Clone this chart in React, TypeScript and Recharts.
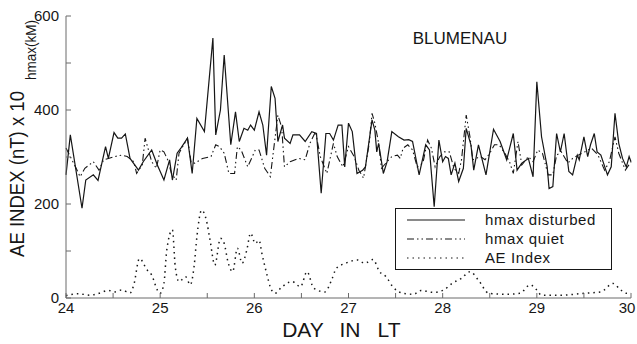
import { LineChart, Line, XAxis, YAxis, Legend } from "recharts";

const FONT = "'Liberation Sans', Arial, sans-serif";
const INK = "#161616";
const FRAME = "#6a6a6a";

const dayTicks = [24, 24.5, 25, 25.5, 26, 26.5, 27, 27.5, 28, 28.5, 29, 29.5, 30];
const hTicks = [0, 100, 200, 300, 400, 500, 600];

// hmax disturbed (km)
const distDay = [
  24.0, 24.046, 24.17, 24.21, 24.29, 24.34, 24.42, 24.45, 24.51, 24.55, 24.59, 24.63, 24.68, 24.77, 24.82, 24.91,
  24.97, 25.04, 25.1, 25.13, 25.18, 25.22, 25.29, 25.34, 25.39, 25.47, 25.56, 25.59, 25.64, 25.68, 25.75, 25.8,
  25.84, 25.89, 25.93, 25.96, 26.0, 26.05, 26.09, 26.13, 26.18, 26.22, 26.25, 26.3, 26.32, 26.38, 26.41, 26.48,
  26.54, 26.61, 26.66, 26.71, 26.76, 26.8, 26.84, 26.89, 26.93, 26.96, 27.0, 27.04, 27.09, 27.15, 27.18, 27.25,
  27.28, 27.3, 27.32, 27.37, 27.41, 27.46, 27.53, 27.59, 27.64, 27.68, 27.75, 27.82, 27.86, 27.91, 27.96, 28.0,
  28.03, 28.06, 28.09, 28.13, 28.17, 28.22, 28.25, 28.3, 28.33, 28.38, 28.46, 28.54, 28.61, 28.68, 28.75, 28.79,
  28.84, 28.91, 28.96, 29.0, 29.05, 29.11, 29.13, 29.17, 29.21, 29.25, 29.29, 29.34, 29.38, 29.43, 29.45, 29.5,
  29.54, 29.57, 29.61, 29.64, 29.68, 29.75, 29.79, 29.83, 29.87, 29.91, 29.95, 29.98, 30.0,
];
const distH = [
  262, 347, 191, 251, 262, 250, 322, 297, 352, 340, 340, 349, 297, 272, 290, 315,
  283, 251, 294, 251, 308, 319, 340, 265, 382, 354, 553, 347, 400, 517, 326, 396,
  333, 361, 357, 368, 357, 396, 368, 304, 450, 425, 333, 368, 340, 329, 347, 347,
  333, 354, 350, 223, 350, 350, 336, 368, 368, 279, 372, 354, 265, 272, 279, 379,
  357, 311, 329, 265, 290, 354, 343, 336, 337, 333, 262, 326, 315, 194, 336, 290,
  301, 297, 262, 287, 248, 276, 361, 326, 272, 326, 262, 359, 333, 294, 350, 272,
  287, 297, 258, 460, 343, 279, 233, 237, 350, 311, 350, 269, 262, 304, 294, 343,
  301, 326, 350, 311, 304, 262, 279, 393, 329, 297, 279, 301, 290,
];

// hmax quiet (km)
const quietDay = [
  24.0, 24.1, 24.15, 24.2, 24.29, 24.35, 24.4, 24.45, 24.52, 24.59, 24.65, 24.72, 24.75, 24.81, 24.84, 24.87,
  24.91, 24.96, 25.0, 25.04, 25.08, 25.12, 25.17, 25.2, 25.29, 25.33, 25.37, 25.45, 25.54, 25.59, 25.63, 25.68,
  25.73, 25.79, 25.82, 25.86, 25.93, 26.01, 26.05, 26.11, 26.17, 26.2, 26.25, 26.29, 26.32, 26.38, 26.47, 26.54,
  26.59, 26.65, 26.7, 26.77, 26.84, 26.88, 26.94, 27.0, 27.06, 27.11, 27.16, 27.22, 27.25, 27.28, 27.32, 27.35,
  27.41, 27.46, 27.52, 27.55, 27.58, 27.63, 27.68, 27.73, 27.79, 27.84, 27.88, 27.92, 27.97, 28.02, 28.07, 28.12,
  28.17, 28.2, 28.25, 28.29, 28.32, 28.4, 28.45, 28.5, 28.55, 28.6, 28.66, 28.71, 28.75, 28.8, 28.84, 28.91,
  28.96, 29.01, 29.06, 29.12, 29.17, 29.21, 29.26, 29.33, 29.38, 29.44, 29.51, 29.58, 29.65, 29.72, 29.77, 29.83,
  29.87, 29.94, 30.0,
];
const quietH = [
  319, 279, 258, 276, 290, 272, 294, 297, 301, 304, 301, 290, 265, 283, 340, 319,
  290, 276, 315, 311, 294, 265, 251, 308, 340, 287, 287, 297, 301, 326, 322, 308,
  265, 265, 322, 315, 279, 315, 315, 276, 258, 308, 389, 364, 279, 290, 297, 294,
  329, 354, 301, 265, 329, 301, 279, 322, 301, 272, 255, 329, 393, 372, 329, 276,
  290, 301, 304, 297, 319, 326, 315, 279, 287, 336, 319, 279, 301, 311, 311, 276,
  265, 294, 389, 343, 294, 301, 294, 308, 326, 326, 308, 290, 265, 333, 283, 301,
  290, 315, 308, 262, 262, 304, 311, 287, 297, 304, 311, 319, 304, 272, 290, 343,
  308, 272, 290,
];

// AE index (nT) / 10
const aeDay = [
  24.0, 24.13, 24.26, 24.35, 24.45, 24.52, 24.59, 24.68, 24.72, 24.78, 24.86, 24.91, 24.97, 25.0, 25.04, 25.07,
  25.13, 25.16, 25.2, 25.27, 25.32, 25.36, 25.39, 25.44, 25.49, 25.53, 25.58, 25.64, 25.68, 25.72, 25.77, 25.82,
  25.87, 25.92, 25.96, 26.01, 26.05, 26.08, 26.14, 26.17, 26.22, 26.29, 26.4, 26.49, 26.56, 26.63, 26.75, 26.82,
  26.87, 26.97, 27.1, 27.17, 27.26, 27.33, 27.4, 27.47, 27.58, 27.69, 27.77, 27.9, 28.01, 28.1, 28.2, 28.29,
  28.38, 28.49, 28.68, 28.82, 28.93, 29.0, 29.05, 29.25, 29.5, 29.68, 29.81, 29.88, 29.95, 30.0,
];
const aeVal = [
  5, 9, 6, 10, 16, 13, 17, 11, 28, 84, 60, 49, 17, 10, 31, 102,
  145, 67, 35, 45, 28, 67, 130, 187, 166, 123, 70, 127, 116, 77, 56, 106,
  74, 102, 138, 116, 123, 95, 45, 23, 10, 23, 35, 24, 56, 21, 13, 38,
  63, 74, 81, 74, 82, 56, 45, 24, 10, 8, 16, 12, 17, 31, 42, 56,
  38, 10, 8, 10, 28, 17, 6, 6, 10, 13, 31, 19, 10, 11,
];

const disturbed = distDay.map((d, i) => ({ d, v: distH[i] }));
const quiet = quietDay.map((d, i) => ({ d, v: quietH[i] }));
const ae = aeDay.map((d, i) => ({ d, v: aeVal[i] }));

const legendRows = [
  { name: "hmax disturbed", dash: undefined as string | undefined },
  { name: "hmax quiet", dash: "7 3 1.5 3 1.5 3" },
  { name: "AE Index", dash: "1.5 4" },
];

function LegendBox() {
  return (
    <svg width={218} height={63} style={{ display: "block" }}>
      <rect x={0.5} y={0.5} width={216} height={61} fill="#fff" stroke={INK} strokeWidth={1} />
      {legendRows.map((r, i) => (
        <g key={r.name}>
          <line x1={12} x2={70} y1={12 + i * 19} y2={12 + i * 19} stroke={INK} strokeWidth={1.1} strokeDasharray={r.dash} />
          <text x={90} y={17 + i * 19} fontSize={15} fontFamily={FONT} fill={INK} letterSpacing={0.6}>
            {r.name}
          </text>
        </g>
      ))}
    </svg>
  );
}

// day labels under the axis; the last one is nudged so it stays on the page
function DayTick(props: any) {
  const { x, y, payload } = props;
  const v = payload.value as number;
  if (!Number.isInteger(v)) return null;
  return (
    <text x={Math.min(x, 627)} y={y} dy="0.71em" textAnchor="middle" fontSize={15} fontFamily={FONT} fill={INK}>
      {v}
    </text>
  );
}

export default function App() {
  const tickStyle = { fontSize: 15, fill: INK, fontFamily: FONT };
  return (
    <div style={{ position: "absolute", left: 0, top: 0, width: 637, height: 344, background: "#fff" }}>
      <LineChart width={637} height={344} margin={{ top: 16, right: 6, bottom: 0, left: 0 }}>
        <XAxis
          xAxisId="b"
          dataKey="d"
          type="number"
          domain={[24, 30]}
          ticks={dayTicks}
          interval={0}
          height={46}
          tickSize={-5}
          tickMargin={9}
          stroke={FRAME}
          tick={<DayTick />}
        />
        <XAxis
          xAxisId="t"
          orientation="top"
          dataKey="d"
          type="number"
          domain={[24, 30]}
          ticks={dayTicks}
          interval={0}
          height={0}
          tickSize={-5}
          tick={false}
          stroke={FRAME}
        />
        <YAxis
          yAxisId="l"
          type="number"
          domain={[0, 600]}
          ticks={hTicks}
          interval={0}
          width={66}
          tickSize={-5}
          tickMargin={12}
          stroke={FRAME}
          tick={tickStyle}
          tickFormatter={(v: number) => (v % 200 === 0 ? String(v) : "")}
        />
        <YAxis
          yAxisId="r"
          orientation="right"
          type="number"
          domain={[0, 600]}
          ticks={hTicks}
          interval={0}
          width={0}
          tickSize={-5}
          tick={false}
          stroke={FRAME}
        />
        <Line
          xAxisId="b"
          yAxisId="l"
          data={quiet}
          dataKey="v"
          type="linear"
          stroke={INK}
          strokeWidth={1.1}
          strokeDasharray="7 3 1.5 3 1.5 3"
          dot={false}
          isAnimationActive={false}
        />
        <Line
          xAxisId="b"
          yAxisId="l"
          data={disturbed}
          dataKey="v"
          type="linear"
          stroke={INK}
          strokeWidth={1.2}
          dot={false}
          isAnimationActive={false}
        />
        <Line
          xAxisId="t"
          yAxisId="r"
          data={ae}
          dataKey="v"
          type="monotone"
          stroke={INK}
          strokeWidth={1.5}
          strokeDasharray="1.5 4"
          dot={false}
          isAnimationActive={false}
        />
        <Legend
          verticalAlign="middle"
          layout="horizontal"
          content={() => <LegendBox />}
          wrapperStyle={{ position: "absolute", left: 395, top: 208, width: 218, height: 63 }}
        />
      </LineChart>
      <svg width={637} height={344} style={{ position: "absolute", left: 0, top: 0, pointerEvents: "none" }}>
        <text x={460} y={44} fontSize={17} fontFamily={FONT} fill={INK} textAnchor="middle">
          BLUMENAU
        </text>
        <text
          transform="translate(36,50) rotate(-90)"
          fontSize={15}
          fontFamily={FONT}
          fill={INK}
          textAnchor="middle"
          textLength={60}
          lengthAdjust="spacingAndGlyphs"
        >
          hmax(kM)
        </text>
        <text
          transform="translate(24,174) rotate(-90)"
          fontSize={20}
          fontFamily={FONT}
          fill={INK}
          textAnchor="middle"
          textLength={166}
          lengthAdjust="spacingAndGlyphs"
        >
          AE INDEX (nT) x 10
        </text>
        <text x={303} y={337} fontSize={21} fontFamily={FONT} fill={INK} textAnchor="middle">DAY</text>
        <text x={350} y={337} fontSize={21} fontFamily={FONT} fill={INK} textAnchor="middle">IN</text>
        <text x={389} y={337} fontSize={21} fontFamily={FONT} fill={INK} textAnchor="middle">LT</text>
      </svg>
    </div>
  );
}
